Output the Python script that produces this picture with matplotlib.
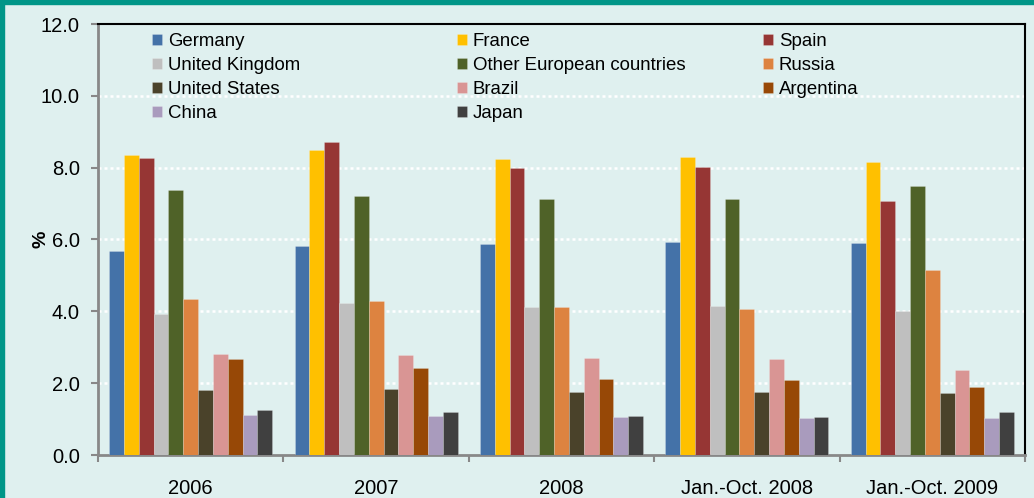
import numpy as np
import matplotlib.pyplot as plt
from matplotlib.patches import Rectangle

periods = ['2006', '2007', '2008', 'Jan.-Oct. 2008', 'Jan.-Oct. 2009']

countries = ['Germany', 'France', 'Spain', 'United Kingdom',
             'Other European countries', 'Russia', 'United States',
             'Brazil', 'Argentina', 'China', 'Japan']

colors = ['#4472A8', '#FFC000', '#963634', '#BFBFBF', '#4F6228', '#DD8340',
          '#4A422A', '#D99594', '#974806', '#A99BBD', '#404040']

# share (%) per country, one value per period
germany = [5.68, 5.82, 5.87, 5.93, 5.91]
france = [8.35, 8.49, 8.23, 8.30, 8.17]
spain = [8.26, 8.71, 7.98, 8.03, 7.07]
uk = [3.92, 4.23, 4.13, 4.15, 4.01]
other_europe = [7.38, 7.21, 7.13, 7.12, 7.48]
russia = [4.33, 4.29, 4.12, 4.06, 5.15]
us = [1.80, 1.83, 1.75, 1.75, 1.74]
brazil = [2.81, 2.78, 2.70, 2.68, 2.37]
argentina = [2.68, 2.41, 2.12, 2.09, 1.89]
china = [1.11, 1.09, 1.05, 1.04, 1.04]
japan = [1.24, 1.19, 1.08, 1.07, 1.21]

series = [germany, france, spain, uk, other_europe, russia, us, brazil,
          argentina, china, japan]


def main():
    plt.rcParams['font.family'] = ['Liberation Sans', 'DejaVu Sans']
    bg = '#DFF0EF'

    fig = plt.figure(figsize=(10.34, 4.98), dpi=100, facecolor=bg)
    ax = fig.add_axes([98 / 1034, 1 - 455 / 498, (1025 - 98) / 1034, (455 - 24) / 498])
    ax.set_facecolor(bg)

    x = np.arange(len(periods))
    n = len(series)
    width = 0.08
    handles = []
    for i, vals in enumerate(series):
        offset = (i - (n - 1) / 2) * width
        b = ax.bar(x + offset, vals, width, color=colors[i], label=countries[i],
                   edgecolor='#FFFFFF55', linewidth=0.4, zorder=3)
        handles.append(b)

    ax.set_xlim(-0.5, len(periods) - 0.5)
    ax.set_ylim(0, 12)
    ax.set_yticks(np.arange(0, 12.1, 2))
    ax.set_yticklabels(['%.1f' % v for v in np.arange(0, 12.1, 2)], fontsize=14.5)
    ax.set_xticks(x)
    ax.set_xticklabels(periods, fontsize=14.5)
    ax.set_xticks(np.arange(-0.5, len(periods)), minor=True)
    ax.tick_params(axis='x', which='major', length=0, pad=17)
    ax.tick_params(axis='x', which='minor', length=5, color='#888888', width=1.5)
    ax.tick_params(axis='y', length=5, color='#888888', width=1.5, pad=8)

    for y in range(2, 12, 2):
        ax.axhline(y, color='white', linestyle=(0, (1.2, 1.2)), linewidth=1.8, zorder=1)

    for side in ['left', 'bottom']:
        ax.spines[side].set_color('#888888')
        ax.spines[side].set_linewidth(2)
    for side in ['top', 'right']:
        ax.spines[side].set_color('black')
        ax.spines[side].set_linewidth(1.5)

    ax.set_ylabel('%', fontsize=14, fontweight='bold')
    ax.yaxis.set_label_coords(-0.052, 0.5)

    # legend: three columns at fixed positions, one legend per column
    cols = [[0, 3, 6, 9], [1, 4, 7, 10], [2, 5, 8]]
    col_x = [152, 457, 763]
    for k, idx in enumerate(cols):
        leg = ax.legend([handles[i] for i in idx], [countries[i] for i in idx],
                        loc='upper left',
                        bbox_to_anchor=((col_x[k] - 98) / 927, 1 - 9 / 431),
                        frameon=False, fontsize=13.4, handlelength=0.55,
                        handleheight=0.55, handletextpad=0.3, labelspacing=0.38,
                        borderaxespad=0, borderpad=0)
        if k < len(cols) - 1:
            ax.add_artist(leg)

    # teal frame strips on top and left
    fig.patches.append(Rectangle((0, 1 - 4 / 498), 1, 4 / 498, transform=fig.transFigure,
                                 color='#009688', zorder=0))
    fig.patches.append(Rectangle((0, 0), 4 / 1034, 1, transform=fig.transFigure,
                                 color='#009688', zorder=0))

    fig.savefig('out.png', dpi=100, facecolor=bg)


if __name__ == "__main__":
    main()
